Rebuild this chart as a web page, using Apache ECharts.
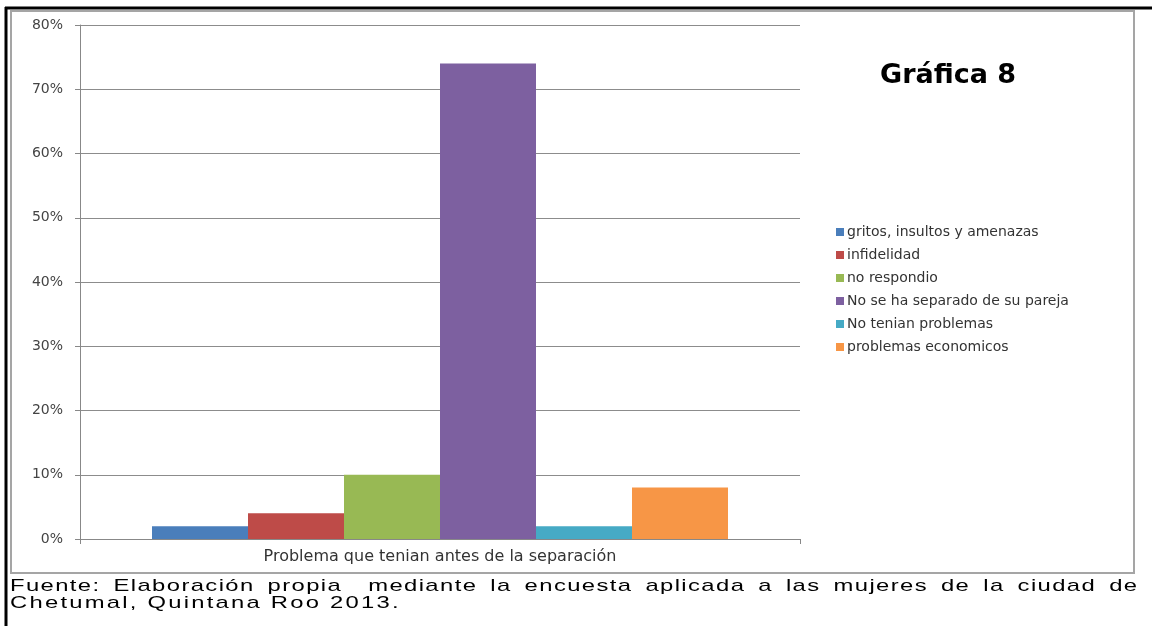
<!DOCTYPE html>
<html>
<head>
<meta charset="utf-8">
<script src="https://cdn.jsdelivr.net/npm/echarts@6/dist/echarts.min.js"></script>
<style>
html, body { margin: 0; padding: 0; background: #fff; }
#chart { width: 1152px; height: 626px; position: absolute; left: 0; top: 0; }
#fuente {
  position: absolute; left: 10px; top: 577px; width: 806px;
  font-family: 'Liberation Sans', Arial, sans-serif; font-size: 17px; line-height: 17px;
  letter-spacing: 1.6px;
  color: #000; transform: scaleX(1.4); transform-origin: left top;
}
#fuente .l1 { letter-spacing: 1px; text-align: justify; text-align-last: justify; }
</style>
</head>
<body>
<div id="chart"></div>
<div id="fuente">
  <div class="l1">Fuente: Elaboración propia &nbsp;mediante la encuesta aplicada a las mujeres de la ciudad de</div>
  <div>Chetumal, Quintana Roo 2013.</div>
</div>
<script>
// datos (porcentaje)
var categoria = ['Problema que tenian antes de la separación']
var nombres = ['gritos, insultos y amenazas', 'infidelidad', 'no respondio',
  'No se ha separado de su pareja', 'No tenian problemas', 'problemas economicos']
var valores = [2, 4, 10, 74, 2, 8]
var colores = ['#4a7ebb', '#be4b48', '#98b954', '#7d60a0', '#46aac5', '#f79646']

var chart = echarts.init(document.getElementById('chart'))

var series = nombres.map(function (n, i) {
  return {
    name: n,
    type: 'bar',
    data: [valores[i]],
    barGap: '0%',
    barCategoryGap: '20%',
    itemStyle: { color: colores[i] }
  }
})

var option = {
  animation: false,
  textStyle: { fontFamily: 'DejaVu Sans' },
  title: {
    text: 'Gráfica 8',
    left: 875,
    top: 57,
    textStyle: { fontFamily: 'DejaVu Sans', fontWeight: 'bold', fontSize: 27, color: '#000' }
  },
  legend: {
    orient: 'vertical',
    left: 831,
    top: 220,
    itemWidth: 8,
    itemHeight: 8,
    itemGap: 9,
    icon: 'rect',
    data: nombres,
    textStyle: { fontSize: 14, color: '#333', padding: [0, 0, 0, -2] }
  },
  grid: { left: 80, top: 25, width: 720, height: 514 },
  xAxis: {
    type: 'category',
    data: categoria,
    axisLine: { lineStyle: { color: '#888' } },
    axisTick: { show: true, length: 5, lineStyle: { color: '#888' } },
    axisLabel: { fontSize: 16, color: '#333', margin: 10 }
  },
  yAxis: {
    type: 'value',
    min: 0,
    max: 80,
    interval: 10,
    axisLine: { show: true, lineStyle: { color: '#888' } },
    axisTick: { show: true, length: 5, lineStyle: { color: '#888' } },
    axisLabel: { formatter: '{value}%', fontSize: 14, color: '#444', margin: 17 },
    splitLine: { lineStyle: { color: '#8c8c8c' } }
  },
  graphic: [
    { type: 'rect', shape: { x: 11, y: 11, width: 1123, height: 562 },
      style: { fill: 'none', stroke: '#a5a5a5', lineWidth: 2 }, z: -1 },
    { type: 'line', shape: { x1: 5, y1: 8, x2: 1152, y2: 8 },
      style: { stroke: '#000', lineWidth: 3 } },
    { type: 'line', shape: { x1: 6, y1: 7, x2: 6, y2: 626 },
      style: { stroke: '#000', lineWidth: 3 } }
  ],
  series: series
}

chart.setOption(option)
</script>
</body>
</html>
